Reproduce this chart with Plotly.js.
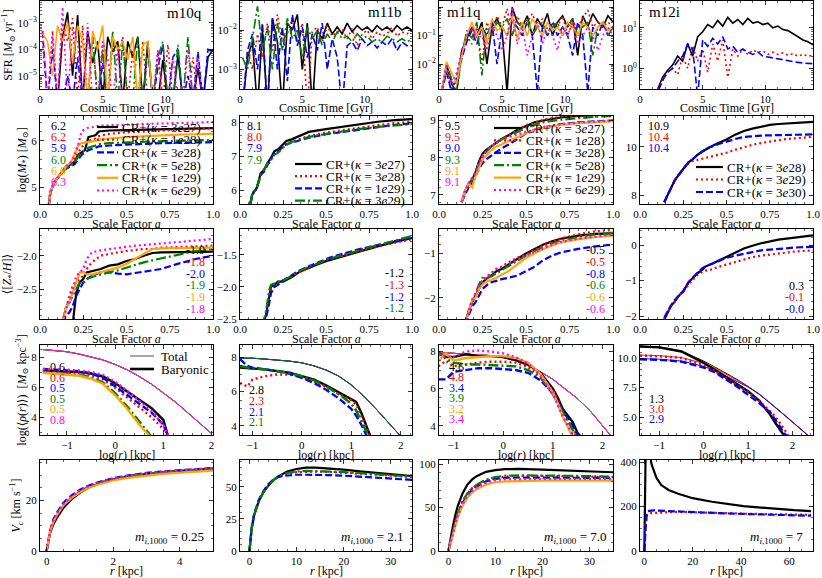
<!DOCTYPE html>
<html><head><meta charset="utf-8">
<script src="https://cdn.plot.ly/plotly-3.0.1.min.js"></script>
<style>html,body{margin:0;padding:0;background:#fff}#chart{width:822px;height:578px}</style>
</head><body><div id="chart"></div><script>
// ================= DATA =================
// Row 1: star formation rate vs cosmic time [Gyr]
const sfrTime = [0.2,0.6,1.0,1.4,1.8,2.2,2.6,3.0,3.4,3.8,4.2,4.6,5.0,5.4,5.8,6.2,6.6,7.0,7.4,7.8,8.2,8.6,9.0,9.4,9.8,10.2,10.6,11.0,11.4,11.8,12.2,12.6,13.0,13.4,13.8];
const sfr_m10q_k = [1e-6,1e-6,1e-6,1e-6,3e-4,2.5e-3,1e-5,2e-3,1e-6,5e-4,3e-5,2e-4,1e-6,3e-4,8e-5,2e-4,1e-6,2e-4,5e-5,3e-4,1e-6,2e-4,1e-6,1e-6,4e-5,1e-6,1e-6,6e-5,1e-6,1e-6,1e-6,2e-5,1e-6,5e-5,1e-4];
const sfr_m10q_r = [2e-4,1e-6,5e-4,1e-6,1e-3,2e-4,1.5e-3,1e-6,8e-4,1e-6,3e-4,1e-6,2e-4,1e-6,1.5e-4,4e-5,3e-4,1e-6,1e-4,1e-6,2e-4,1e-6,1e-6,8e-5,1e-6,1.5e-4,1e-6,1e-6,1e-6,1e-6,5e-5,1e-6,1e-6,1e-6,1e-6];
const sfr_m10q_b = [5e-4,1e-6,1e-4,1e-6,1e-6,1e-5,1e-6,5e-5,1e-6,1e-6,1e-6,1e-6,3e-5,1e-6,1e-6,1e-6,1e-6,1e-6,1e-6,1e-6,1e-6,1e-4,1e-6,2e-5,1.5e-4,1e-6,5e-5,1e-4,1e-6,1e-5,1e-6,8e-5,1e-6,1e-4,8e-5];
const sfr_m10q_g = [1e-6,1e-6,1e-6,1e-6,1e-6,1e-6,1e-6,1e-6,1e-6,1e-6,3e-4,1e-6,1e-4,1e-6,5e-4,1e-6,2e-4,1e-6,1e-6,3e-4,1e-6,1.5e-4,1e-6,5e-5,2e-4,1e-6,1e-6,1.5e-4,1e-6,3e-4,1e-6,1e-6,1e-6,1e-6,1e-6];
const sfr_m10q_o = [4e-4,2e-4,1e-5,8e-4,2e-4,1e-3,3e-5,8e-4,2e-4,1e-6,5e-4,1e-4,8e-4,1e-6,3e-4,1e-4,2e-4,4e-5,3e-4,1e-6,1.5e-4,2e-4,1e-6,1e-6,1e-6,1e-6,1e-6,1e-6,1e-6,1e-6,1e-6,1e-6,1e-6,1e-6,1e-6];
const sfr_m10q_m = [5e-4,1e-6,3e-4,1e-6,4e-3,1e-6,6e-4,2e-4,1e-6,1e-3,1e-6,1e-6,2e-4,5e-5,1e-6,1e-4,1e-6,1e-6,1e-6,1e-6,1e-6,1e-6,1e-6,1e-4,1e-6,1e-6,5e-5,1e-6,1e-6,1e-4,1e-6,5e-5,1e-6,1e-6,1e-6];
const sfr_m11b_k = [1e-4,2e-3,5e-3,1e-4,1e-2,1e-4,2e-2,5e-3,1e-4,1.5e-2,1e-2,2.5e-2,1e-3,1.5e-2,1e-4,1e-2,6e-3,1.5e-2,8e-3,1.2e-2,8e-3,1.5e-2,9e-3,1.3e-2,1e-2,1.2e-2,9e-3,1.3e-2,1e-2,1.2e-2,9e-3,1.3e-2,1e-2,1.2e-2,1e-2];
const sfr_m11b_r = [1e-4,3e-3,1e-3,8e-3,2e-3,1.5e-2,3e-3,2.5e-2,5e-3,8e-3,2e-2,5e-3,1.5e-2,1e-4,9e-3,1.2e-2,5e-3,1.3e-2,7e-3,9e-3,1e-2,6e-3,1.1e-2,4e-3,8e-3,1e-2,6e-3,9e-3,7e-3,8e-3,1.2e-2,7e-3,9e-3,8e-3,1e-2];
const sfr_m11b_b = [1e-4,3e-3,8e-3,1e-3,1.5e-2,1e-4,2e-2,1e-3,1.2e-2,5e-4,2.5e-2,4e-3,1.2e-2,2e-3,8e-3,3e-3,1.5e-2,1e-3,6e-3,2e-3,1e-4,4e-3,5e-3,3e-3,6e-3,4e-3,5e-3,3.5e-3,5e-3,4e-3,6e-3,3e-3,5e-3,4e-3,4e-3];
const sfr_m11b_g = [2e-3,1e-3,6e-3,4e-2,3e-3,1.2e-2,1e-3,1.5e-2,3e-3,2e-2,6e-3,1e-2,2e-3,1.2e-2,6e-3,1e-2,4e-3,8e-3,5e-3,9e-3,6e-3,7e-3,5e-3,8e-3,6e-3,7e-3,5e-3,6e-3,5e-3,7e-3,6e-3,5e-3,6e-3,5e-3,6e-3];
const sfr_m11q_k = [1e-3,1e-2,2e-3,1e-3,3e-2,8e-2,2e-1,1e-1,3e-1,1e-2,2e-1,4e-1,1.5e-1,1e-3,1,3e-1,2e-1,5e-1,1e-1,4e-1,2e-1,6e-1,1e-1,3e-1,5e-1,2e-1,4e-1,2e-2,5e-1,2e-1,6e-1,3e-1,2e-1,5e-1,3e-1];
const sfr_m11q_r = [1e-3,8e-3,1e-3,4e-3,2e-2,1e-1,5e-2,2e-1,1e-2,3e-1,1e-1,5e-1,2e-1,9e-1,1e-1,5e-1,2e-1,3e-1,6e-1,2e-1,4e-1,1e-1,3e-1,2e-1,5e-1,1e-1,3e-1,2e-1,4e-1,8e-1,2e-1,3e-1,2e-1,3e-1,2e-1];
const sfr_m11q_b = [1e-3,5e-3,1e-3,3e-3,1.5e-2,6e-2,1.5e-1,5e-2,2e-1,1e-1,3e-1,1e-2,2e-1,1e-1,3e-1,2e-1,1e-1,3e-1,1e-1,1e-3,2e-1,1e-1,3e-1,1e-1,2e-1,1e-1,2e-2,3e-1,1e-1,1e-3,2e-1,1e-1,3e-1,1e-1,2e-1];
const sfr_m11q_g = [1e-3,1e-2,3e-3,1e-3,2e-2,1.5e-1,8e-2,3e-1,4e-3,2e-1,1e-1,3e-1,2e-1,4e-1,1e-1,3e-1,2e-1,4e-1,1e-1,2e-1,3e-1,1e-1,2e-1,3e-1,1e-1,2e-1,4e-1,1e-1,2e-1,3e-1,2e-2,2e-1,3e-1,1e-1,2e-1];
const sfr_m11q_o = [1e-3,1.2e-2,5e-3,2e-3,2e-2,1e-1,3e-1,1e-1,2e-1,5e-2,4e-1,1.5e-1,2e-1,1e-1,5e-1,8e-2,3e-1,1e-1,4e-1,2e-1,1e-1,3e-1,1.5e-1,2e-1,1e-1,3e-1,2e-1,1e-1,3e-1,2e-1,1e-1,2e-1,3e-1,1.5e-1,2e-1];
const sfr_m11q_m = [1e-3,1e-2,2e-3,5e-3,3e-2,1e-1,2e-1,8e-2,1e-1,3e-2,2e-1,1e-1,3e-2,1e-1,1,5e-2,2e-1,2e-2,1e-1,3e-1,5e-2,2e-1,1e-1,3e-2,2e-1,1e-1,3e-1,5e-2,1e-1,2e-1,1e-1,3e-2,1e-1,2e-1,1e-1];
const sfr_m12i_k = [0.1,0.1,0.1,0.3,0.6,0.9,1.2,2,1.5,4,2,6,8,12,10,15,11,18,13,16,12,17,13,14,12,13,10,11,9,8.5,7,6,5,4.5,3.8];
const sfr_m12i_r = [0.1,0.1,0.1,0.3,0.5,0.8,1.0,0.7,2.0,1.0,3.5,1.5,3.0,0.8,4.0,1.5,5.0,0.6,3.0,2.0,3.0,2.2,2.8,2.5,2.7,2.2,2.5,2.2,2.4,2.1,2.3,2.0,2.2,2.0,2.1];
const sfr_m12i_b = [0.1,0.1,0.1,0.25,0.5,0.8,1.0,1.5,2.0,4.0,3.0,0.2,5.0,3.5,5.5,4.0,6.0,3.0,3.5,2.5,3.0,2.5,2.2,2.5,2.0,1.9,1.8,1.7,1.6,1.5,1.45,1.4,1.35,1.3,1.3];

// Row 2: log stellar mass vs scale factor
const mass_m10q_a = [0.05,0.06,0.08,0.1,0.12,0.15,0.18,0.2,0.22,0.24,0.26,0.28,0.32,0.34,0.4,0.5,0.6,0.7,0.8,0.9,1.0];
const mass_m10q_k = [4.6,4.9,5.1,5.2,5.3,5.45,5.5,5.55,5.7,5.75,5.8,6.08,6.12,6.2,6.22,6.23,6.24,6.25,6.26,6.27,6.27];
const mass_m10q_r = [4.6,4.9,5.1,5.2,5.3,5.4,5.5,5.6,5.75,5.85,5.95,6.0,6.05,6.1,6.15,6.18,6.2,6.22,6.24,6.26,6.27];
const mass_m10q_b = [4.6,4.9,5.1,5.2,5.3,5.4,5.45,5.5,5.6,5.7,5.75,5.8,5.85,5.88,5.9,5.92,5.94,5.95,5.96,5.97,5.97];
const mass_m10q_g = [4.6,4.9,5.1,5.2,5.3,5.4,5.5,5.55,5.65,5.75,5.8,5.85,5.9,5.93,5.95,5.97,5.98,5.99,6.0,6.01,6.02];
const mass_m10q_o = [4.6,4.9,5.1,5.2,5.3,5.45,5.55,5.7,5.9,5.95,5.96,5.97,6.0,6.02,6.05,6.08,6.1,6.12,6.13,6.14,6.15];
const mass_m10q_m = [4.6,4.9,5.1,5.2,5.3,5.45,5.55,5.7,5.9,6.2,6.25,6.28,6.3,6.32,6.33,6.35,6.36,6.37,6.38,6.39,6.4];
const mass_m11b_a = [0.06,0.07,0.08,0.09,0.1,0.12,0.14,0.16,0.18,0.2,0.22,0.25,0.27,0.3,0.35,0.4,0.5,0.6,0.7,0.8,0.9,1.0];
const mass_m11b_k = [5.6,5.85,5.95,6.0,6.1,6.5,6.6,6.8,6.95,7.15,7.2,7.35,7.45,7.5,7.6,7.72,7.8,7.88,7.95,8.02,8.07,8.1];
const mass_m11b_r = [5.6,5.85,5.95,6.0,6.1,6.45,6.6,6.75,6.9,7.05,7.15,7.3,7.38,7.42,7.5,7.6,7.7,7.78,7.85,7.92,7.98,8.02];
const mass_m11b_b = [5.6,5.8,5.95,6.0,6.1,6.45,6.55,6.75,6.95,7.1,7.15,7.28,7.35,7.4,7.48,7.55,7.65,7.72,7.8,7.87,7.93,7.97];
const mass_m11b_g = [5.6,5.85,5.95,6.0,6.1,6.5,6.6,6.8,6.9,7.05,7.1,7.25,7.35,7.42,7.5,7.57,7.66,7.74,7.81,7.87,7.92,7.95];
const mass_m11q_a = [0.13,0.15,0.17,0.19,0.21,0.23,0.25,0.27,0.3,0.33,0.36,0.4,0.45,0.5,0.55,0.6,0.7,0.8,0.9,1.0];
const mass_m11q_k = [6.8,7.1,7.3,7.4,7.6,7.9,8.1,8.2,8.3,8.4,8.5,8.6,8.75,8.85,8.95,9.0,9.08,9.12,9.15,9.17];
const mass_m11q_r = [6.8,7.1,7.3,7.45,7.6,7.85,8.05,8.15,8.3,8.4,8.5,8.6,8.75,8.87,8.95,9.02,9.1,9.14,9.16,9.18];
const mass_m11q_b = [6.8,7.0,7.2,7.3,7.5,7.7,7.85,7.95,8.05,8.15,8.25,8.35,8.5,8.65,8.75,8.8,8.9,8.95,8.98,9.0];
const mass_m11q_g = [6.8,7.1,7.3,7.4,7.6,7.85,8.05,8.15,8.3,8.4,8.5,8.58,8.7,8.8,8.88,8.95,9.02,9.07,9.1,9.12];
const mass_m11q_o = [6.8,7.1,7.3,7.2,7.5,7.75,7.95,8.05,8.2,8.3,8.35,8.45,8.55,8.65,8.75,8.8,8.88,8.93,8.96,8.98];
const mass_m11q_m = [6.8,7.1,7.3,7.4,7.6,7.85,8.0,8.15,8.3,8.4,8.48,8.55,8.62,8.7,8.78,8.83,8.9,8.94,8.97,8.99];
const mass_m12i_a = [0.14,0.16,0.18,0.2,0.22,0.25,0.28,0.3,0.33,0.36,0.4,0.45,0.5,0.55,0.6,0.65,0.7,0.75,0.8,0.85,0.9,0.95,1.0];
const mass_m12i_k = [7.7,8.0,8.3,8.6,8.8,9.1,9.35,9.45,9.65,9.8,9.97,10.14,10.3,10.5,10.65,10.75,10.83,10.9,10.94,10.97,11.0,11.02,11.03];
const mass_m12i_r = [7.7,8.0,8.3,8.6,8.8,9.1,9.3,9.4,9.45,9.5,9.58,9.68,9.75,9.87,9.98,10.08,10.15,10.22,10.27,10.32,10.36,10.39,10.41];
const mass_m12i_b = [7.7,8.0,8.3,8.6,8.8,9.1,9.35,9.45,9.65,9.8,9.97,10.1,10.22,10.32,10.4,10.44,10.46,10.47,10.48,10.49,10.5,10.5,10.51];

// Row 3: mean stellar metallicity vs scale factor
const met_m10q_a = [0.13,0.15,0.17,0.19,0.21,0.23,0.25,0.27,0.3,0.35,0.4,0.45,0.5,0.55,0.6,0.65,0.7,0.8,0.9,1.0];
const met_m10q_k = [null,null,null,-3.0,-2.55,-2.4,-2.35,-2.25,-2.23,-2.2,-2.15,-2.13,-2.08,-2.05,-2.0,-1.96,-1.95,-1.95,-1.95,-1.94];
const met_m10q_r = [-3.0,-2.8,-2.6,-2.45,-2.4,-2.35,-2.3,-2.2,-2.1,-2.0,-1.97,-1.95,-1.93,-1.91,-1.9,-1.9,-1.88,-1.87,-1.86,-1.85];
const met_m10q_b = [-3.0,-2.9,-2.85,-2.75,-2.6,-2.5,-2.4,-2.35,-2.3,-2.25,-2.25,-2.27,-2.28,-2.26,-2.24,-2.22,-2.2,-2.12,-2.05,-2.0];
const met_m10q_g = [-3.0,-2.75,-2.7,-2.6,-2.5,-2.4,-2.42,-2.35,-2.32,-2.28,-2.25,-2.22,-2.18,-2.13,-2.1,-2.07,-2.04,-1.98,-1.93,-1.9];
const met_m10q_o = [-3.0,-2.8,-2.7,-2.55,-2.4,-2.25,-2.25,-2.28,-2.28,-2.25,-2.22,-2.18,-2.12,-2.05,-1.98,-1.9,-1.89,-1.89,-1.88,-1.88];
const met_m10q_m = [-3.0,-2.8,-2.7,-2.5,-2.3,-2.25,-2.2,-2.05,-1.95,-1.92,-1.9,-1.88,-1.87,-1.85,-1.84,-1.83,-1.82,-1.8,-1.78,-1.75];
const met_m11b_a = [0.13,0.15,0.17,0.18,0.2,0.22,0.25,0.3,0.35,0.4,0.45,0.5,0.55,0.6,0.7,0.8,0.9,1.0];
const met_m11b_k = [-2.6,-2.45,-2.15,-2.0,-1.97,-1.92,-1.92,-1.85,-1.76,-1.7,-1.65,-1.6,-1.56,-1.52,-1.44,-1.37,-1.3,-1.24];
const met_m11b_r = [-2.6,-2.45,-2.2,-2.05,-2.0,-1.95,-1.9,-1.83,-1.76,-1.7,-1.64,-1.58,-1.55,-1.51,-1.44,-1.37,-1.31,-1.26];
const met_m11b_b = [-2.6,-2.5,-2.25,-2.1,-2.0,-1.97,-1.9,-1.82,-1.74,-1.68,-1.62,-1.57,-1.52,-1.48,-1.41,-1.35,-1.29,-1.23];
const met_m11b_g = [-2.6,-2.4,-2.05,-1.97,-1.95,-1.93,-1.9,-1.83,-1.75,-1.69,-1.63,-1.58,-1.54,-1.5,-1.42,-1.35,-1.28,-1.21];
const met_m11q_a = [0.15,0.17,0.19,0.21,0.23,0.25,0.28,0.3,0.33,0.36,0.4,0.45,0.5,0.55,0.6,0.65,0.7,0.8,0.9,1.0];
const met_m11q_k = [-2.6,-2.3,-2.1,-1.95,-1.8,-1.65,-1.55,-1.5,-1.4,-1.35,-1.25,-1.12,-1.0,-0.9,-0.8,-0.73,-0.67,-0.6,-0.56,-0.55];
const met_m11q_r = [-2.6,-2.3,-2.05,-1.95,-1.8,-1.6,-1.5,-1.45,-1.35,-1.3,-1.2,-1.1,-1.02,-0.92,-0.82,-0.74,-0.66,-0.57,-0.5,-0.47];
const met_m11q_b = [-2.6,-2.4,-2.2,-2.1,-1.95,-1.8,-1.7,-1.65,-1.62,-1.58,-1.55,-1.5,-1.4,-1.3,-1.15,-1.05,-0.98,-0.9,-0.84,-0.8];
const met_m11q_g = [-2.6,-2.3,-2.1,-1.9,-1.7,-1.55,-1.55,-1.52,-1.45,-1.38,-1.28,-1.18,-1.05,-0.95,-0.86,-0.78,-0.72,-0.63,-0.57,-0.53];
const met_m11q_o = [-2.6,-2.3,-2.05,-2.0,-1.8,-1.7,-1.62,-1.6,-1.55,-1.48,-1.4,-1.25,-1.1,-1.0,-0.9,-0.82,-0.75,-0.68,-0.63,-0.6];
const met_m11q_m = [-2.6,-2.3,-2.05,-1.9,-1.75,-1.6,-1.55,-1.45,-1.35,-1.3,-1.25,-1.15,-1.05,-0.97,-0.88,-0.8,-0.74,-0.67,-0.62,-0.58];
const met_m12i_a = [0.14,0.16,0.18,0.2,0.22,0.25,0.28,0.3,0.33,0.36,0.38,0.42,0.45,0.5,0.55,0.6,0.65,0.7,0.8,0.9,1.0];
const met_m12i_k = [-2.1,-1.9,-1.7,-1.6,-1.45,-1.3,-1.05,-0.95,-0.8,-0.7,-0.6,-0.52,-0.45,-0.32,-0.2,-0.1,-0.02,0.05,0.15,0.22,0.27];
const met_m12i_r = [-2.1,-1.9,-1.7,-1.6,-1.45,-1.3,-1.1,-1.0,-0.85,-0.75,-0.72,-0.68,-0.62,-0.55,-0.47,-0.4,-0.34,-0.3,-0.23,-0.18,-0.15];
const met_m12i_b = [-2.05,-1.85,-1.7,-1.55,-1.45,-1.3,-1.05,-0.95,-0.8,-0.65,-0.6,-0.52,-0.45,-0.36,-0.3,-0.24,-0.2,-0.15,-0.1,-0.07,-0.05];

// Row 4: density profiles, log r [kpc] vs log rho; total (thin) and baryonic (thick)
const rho_m10q_tot_r = [-1.5,-1.25,-1.0,-0.75,-0.5,-0.25,0,0.25,0.5,0.75,1.0,1.25,1.5,1.75,2.0];
const rho_m10q_tot = [8.5,8.45,8.35,8.2,8.0,7.8,7.5,7.15,6.7,6.2,5.6,5.0,4.3,3.6,2.9];
const rho_m10q_bar_r = [-1.5,-1.25,-1.0,-0.75,-0.5,-0.25,0,0.25,0.5,0.75,1.0,1.1];
const rho_m10q_k = [7.1,7.08,7.05,7.0,6.9,6.7,6.25,5.7,5.2,4.6,3.8,2.7];
const rho_m10q_r = [7.1,7.05,7.0,6.95,6.8,6.5,5.95,5.3,4.7,4.0,3.2,2.7];
const rho_m10q_b = [7.2,7.15,7.1,7.05,6.9,6.6,6.05,5.45,4.9,4.3,3.5,2.7];
const rho_m10q_g = [7.0,6.95,6.9,6.8,6.65,6.3,5.6,4.7,3.7,2.7,null,null];
const rho_m10q_o = [6.95,6.9,6.85,6.75,6.55,6.2,5.45,4.55,3.5,2.6,null,null];
const rho_m10q_m = [7.2,7.2,7.15,7.1,7.0,6.8,6.35,5.75,5.1,4.4,3.5,2.7];
const rho_m11b_tot_r = [-1.25,-1.0,-0.75,-0.5,-0.25,0,0.25,0.5,0.75,1.0,1.25,1.5,1.75,2.0,2.25];
const rho_m11b_tot = [7.95,7.95,7.9,7.85,7.78,7.68,7.5,7.25,6.9,6.4,5.75,5.0,4.2,3.4,2.6];
const rho_m11b_bar_r = [-1.25,-1.1,-1.0,-0.75,-0.5,-0.25,0,0.25,0.5,0.75,1.0,1.1,1.2,1.3,1.4];
const rho_m11b_k = [7.4,7.35,7.35,7.3,7.2,7.1,6.9,6.7,6.35,5.95,5.55,5.4,4.8,4.0,3.3];
const rho_m11b_r = [6.5,6.3,6.7,6.9,7.0,7.0,6.85,6.6,6.25,5.85,5.5,5.25,4.6,3.9,3.3];
const rho_m11b_b = [7.9,7.5,7.4,7.3,7.2,7.05,6.8,6.5,6.1,5.6,5.0,4.6,4.1,3.5,3.0];
const rho_m11b_g = [7.5,7.4,7.35,7.3,7.2,7.1,6.9,6.65,6.3,5.85,5.3,4.9,4.3,3.7,3.1];
const rho_m11q_tot_r = [-1.3,-1.0,-0.75,-0.5,-0.25,0,0.25,0.5,0.75,1.0,1.25,1.5,1.75,2.0,2.25];
const rho_m11q_tot = [7.95,7.9,7.88,7.85,7.78,7.68,7.5,7.25,6.9,6.5,6.0,5.45,4.8,4.0,3.2];
const rho_m11q_bar_r = [-1.3,-1.15,-1.0,-0.75,-0.5,-0.25,0,0.25,0.5,0.75,1.0,1.1,1.2,1.3,1.4,1.5,1.6];
const rho_m11q_k = [7.9,7.7,7.7,7.85,7.75,7.75,7.7,7.55,7.3,6.85,6.0,5.5,4.9,4.55,4.2,3.6,3.3];
const rho_m11q_r = [7.2,7.5,7.2,7.3,7.4,7.45,7.45,7.4,7.15,6.7,5.9,5.4,4.8,4.3,3.8,3.4,null];
const rho_m11q_b = [6.5,6.5,6.9,7.0,7.1,7.1,7.05,7.0,6.85,6.45,5.75,5.3,4.8,4.4,4.0,3.5,3.3];
const rho_m11q_g = [8.0,7.6,7.4,7.3,7.3,7.28,7.25,7.2,7.0,6.6,5.7,5.2,4.7,4.2,3.7,3.3,null];
const rho_m11q_o = [7.5,7.9,7.5,7.65,7.7,7.75,7.75,7.65,7.4,6.8,5.8,5.2,4.5,3.9,3.4,null,null];
const rho_m11q_m = [7.8,7.75,7.7,8.0,8.05,8.0,7.9,7.7,7.35,6.7,5.7,5.1,4.5,4.0,3.5,null,null];
const rho_m12i_tot_r = [-1.43,-1.0,-0.5,0,0.25,0.5,0.75,1.0,1.25,1.5,1.75,2.0,2.25,2.46];
const rho_m12i_tot_k = [11.0,10.95,10.6,9.75,9.25,8.75,8.2,7.6,6.95,6.2,5.4,4.6,3.8,3.1];
const rho_m12i_tot_r_ = [10.25,10.2,10.05,9.55,9.15,8.65,8.15,7.6,6.95,6.2,5.4,4.6,3.8,3.1];
const rho_m12i_tot_b = [9.95,9.9,9.75,9.3,8.95,8.5,8.05,7.55,6.95,6.2,5.4,4.6,3.8,3.1];
const rho_m12i_bar_r = [-1.43,-1.0,-0.5,0,0.25,0.5,0.75,1.0,1.25,1.5,1.6,1.7,1.8,1.9];
const rho_m12i_k = [10.97,10.9,10.55,9.6,9.0,8.4,7.8,7.2,6.4,5.2,4.6,4.0,3.5,null];
const rho_m12i_r = [10.2,10.15,10.0,9.4,8.9,8.3,7.7,7.1,6.4,5.5,5.1,4.6,4.0,3.5];
const rho_m12i_b = [9.9,9.85,9.7,9.2,8.8,8.2,7.6,6.9,6.2,5.4,4.9,4.3,3.7,3.3];

// Row 5: circular velocity [km/s] vs r [kpc]
const vc_m10q_r = [0,0.05,0.1,0.2,0.3,0.5,0.75,1.0,1.25,1.5,2.0,2.5,3.0,3.5,4.0,4.5,5.0];
const vc_m10q_k = [0,4,7,10.5,13,17,20.5,23,25,26.3,28.3,29.6,30.5,31.2,31.7,32.2,32.6];
const vc_m10q_rd = [0,4.5,7.5,11.5,14,18,21.3,23.6,25.4,26.7,28.6,29.8,30.7,31.3,31.8,32.3,32.7];
const vc_m10q_b = [0,5,8,12.5,15,19,22,24.2,25.8,27,28.8,30,30.9,31.5,32,32.4,32.8];
const vc_m10q_g = [0,4.5,7.5,11.5,14,18,21.2,23.5,25.3,26.6,28.5,29.7,30.6,31.2,31.7,32.1,32.5];
const vc_m10q_o = [0,4.5,7.5,11.5,14,18,21,23.2,24.9,26.1,27.9,29,29.9,30.5,31,31.4,31.8];
const vc_m10q_m = [0,5,8,12,14.5,18.5,21.7,24,25.6,26.8,28.7,29.9,30.8,31.4,31.9,32.4,32.8];
const vc_m11b_r = [0,0.5,1,1.5,2,3,4,5,6,7,8,10,12,14,17,20,24,28,32,34.5];
const vc_m11b_k = [0,18,28,34,39,46,51,55,58,60,62,64,65,65,64.5,63.5,62,60.5,59.3,58.5];
const vc_m11b_rd = [0,18,28,34,39,46,51,55,57.5,59,60.5,61.5,62,62,61.7,61.2,60.3,59.3,58.3,57.8];
const vc_m11b_b = [0,19,29,35,40,47,52,55.5,57.5,58.5,59,59.5,59.5,59.5,59.2,58.8,58,57,56,55.5];
const vc_m11b_g = [0,18,28,34,39,46,51,55,57.8,59.5,61,62,62.5,62.3,62,61.5,60.6,59.6,58.6,58];
const vc_m11q_r = [0,0.5,1,1.5,2,3,4,5,6,8,10,12,15,20,25,30,35];
const vc_m11q_k = [0,16,30,42,52,66,76,82,86,91,93,94,94.5,93.5,92.5,91.5,90.5];
const vc_m11q_rd = [0,12,24,34,43,57,66,72,76,81.5,84,85.5,86.5,86.5,86,85.5,85];
const vc_m11q_b = [0,12,23,33,42,55,64,70,74,80,83,84,84.5,84.5,84.3,84,84];
const vc_m11q_g = [0,12,24,34,43,57,66,72,76,82,85,86.5,87,87,86.5,86,85.5];
const vc_m11q_o = [0,10,21,31,39,52,61,67,71,76.5,79,80,80.5,81,81,81,81];
const vc_m11q_m = [0,11,22,32,41,54,63,69,73,78.5,81.5,82.5,83,83,83,83,83];
const vc_m12i_r = [0,0.2,0.5,1,1.5,2,3,4,5,7,10,14,20,28,35,41,50,55,62,69];
const vc_m12i_k = [0,200,420,560,500,450,390,355,330,297,275,258,238,222,210,202,194,189,184,180];
const vc_m12i_rd = [0,60,120,160,168,170,171,172,172,173,175,176,175,172,170,168,166,165,164,163];
const vc_m12i_b = [0,50,100,165,178,181,183,183,182,181,180,178,176,172,169,167,165,163,161,159];

// Text content
const haloNames = ['m10q','m11b','m11q','m12i'];
const kappa_m10q = ['3e27','1e28','3e28','5e28','1e29','6e29'];
const kappa_m11b = ['3e27','3e28','1e29','3e29'];
const kappa_m11q = ['3e27','1e28','3e28','5e28','1e29','6e29'];
const kappa_m12i = ['3e28','3e29','3e30'];
const massLab_m10q = ['6.2','6.2','5.9','6.0','6.0','6.3'];
const massLab_m11b = ['8.1','8.0','7.9','7.9'];
const massLab_m11q = ['9.5','9.5','9.0','9.3','9.1','9.1'];
const massLab_m12i = ['10.9','10.4','10.4'];
const metLab_m10q = ['-1.9','-1.8','-2.0','-1.9','-1.9','-1.8'];
const metLab_m11b = ['-1.2','-1.3','-1.2','-1.2'];
const metLab_m11q = ['-0.5','-0.5','-0.8','-0.6','-0.6','-0.6'];
const metLab_m12i = ['0.3','-0.1','-0.0'];
const rhoLab_m10q = ['0.6','0.6','0.5','0.5','0.5','0.8'];
const rhoLab_m11b = ['2.8','2.3','2.1','2.1'];
const rhoLab_m11q = ['4.6','4.8','3.4','3.9','3.2','3.4'];
const rhoLab_m12i = ['1.3','3.0','2.9'];
const mi1000 = ['0.25','2.1','7.0','7'];

// ================= STYLE / LAYOUT =================
const W = 822, H = 578;
const FONT = 'Liberation Serif, DejaVu Serif, serif';
const STY = {
  k:{color:'#000000', dash:'solid'},
  r:{color:'#ff0000', dash:'2px,3px'},
  b:{color:'#0000ff', dash:'7px,3px'},
  g:{color:'#008000', dash:'10px,3px,2px,3px'},
  o:{color:'#ffa500', dash:'solid'},
  m:{color:'#ff00ff', dash:'2px,3px'}
};
const set6 = ['k','r','b','g','o','m'], set4 = ['k','r','b','g'], set3 = ['k','r','b'];
const panelSets = [set6, set4, set6, set3];
const colL = [40,240,439,640], colR = [213,412,613,813];
const rowT = [1,116,229,345,460], rowB = [89,204,319,435,551];
const px = x => x / W, py = y => 1 - y / H;

const traces = [];
function line(k, x, y, s, w, dashOverride) {
  traces.push({type:'scatter', mode:'lines', x:x, y:y, xaxis:'x'+k, yaxis:'y'+k,
    line:{color:STY[s].color, dash: dashOverride || STY[s].dash, width:w},
    showlegend:false, hoverinfo:'skip', connectgaps:false});
}
const kid = (r,c) => r*4 + c + 1;

// Row 1
[[sfr_m10q_k,sfr_m10q_r,sfr_m10q_b,sfr_m10q_g,sfr_m10q_o,sfr_m10q_m],
 [sfr_m11b_k,sfr_m11b_r,sfr_m11b_b,sfr_m11b_g],
 [sfr_m11q_k,sfr_m11q_r,sfr_m11q_b,sfr_m11q_g,sfr_m11q_o,sfr_m11q_m],
 [sfr_m12i_k,sfr_m12i_r,sfr_m12i_b]].forEach((ser,c)=>ser.forEach((y,i)=>line(kid(0,c), sfrTime, y, panelSets[c][i], 1.6)));
// Row 2
[[mass_m10q_a,[mass_m10q_k,mass_m10q_r,mass_m10q_b,mass_m10q_g,mass_m10q_o,mass_m10q_m]],
 [mass_m11b_a,[mass_m11b_k,mass_m11b_r,mass_m11b_b,mass_m11b_g]],
 [mass_m11q_a,[mass_m11q_k,mass_m11q_r,mass_m11q_b,mass_m11q_g,mass_m11q_o,mass_m11q_m]],
 [mass_m12i_a,[mass_m12i_k,mass_m12i_r,mass_m12i_b]]].forEach((p,c)=>p[1].forEach((y,i)=>line(kid(1,c), p[0], y, panelSets[c][i], 2.2)));
// Row 3
[[met_m10q_a,[met_m10q_k,met_m10q_r,met_m10q_b,met_m10q_g,met_m10q_o,met_m10q_m]],
 [met_m11b_a,[met_m11b_k,met_m11b_r,met_m11b_b,met_m11b_g]],
 [met_m11q_a,[met_m11q_k,met_m11q_r,met_m11q_b,met_m11q_g,met_m11q_o,met_m11q_m]],
 [met_m12i_a,[met_m12i_k,met_m12i_r,met_m12i_b]]].forEach((p,c)=>p[1].forEach((y,i)=>line(kid(2,c), p[0], y, panelSets[c][i], 2.2)));
// Row 4 totals (thin solid) then baryonic (thick)
[[rho_m10q_tot_r,[rho_m10q_tot,rho_m10q_tot,rho_m10q_tot,rho_m10q_tot,rho_m10q_tot,rho_m10q_tot]],
 [rho_m11b_tot_r,[rho_m11b_tot,rho_m11b_tot,rho_m11b_tot,rho_m11b_tot]],
 [rho_m11q_tot_r,[rho_m11q_tot,rho_m11q_tot,rho_m11q_tot,rho_m11q_tot,rho_m11q_tot,rho_m11q_tot]],
 [rho_m12i_tot_r,[rho_m12i_tot_k,rho_m12i_tot_r_,rho_m12i_tot_b]]].forEach((p,c)=>p[1].forEach((y,i)=>line(kid(3,c), p[0], y, panelSets[c][i], 0.9, 'solid')));
[[rho_m10q_bar_r,[rho_m10q_k,rho_m10q_r,rho_m10q_b,rho_m10q_g,rho_m10q_o,rho_m10q_m]],
 [rho_m11b_bar_r,[rho_m11b_k,rho_m11b_r,rho_m11b_b,rho_m11b_g]],
 [rho_m11q_bar_r,[rho_m11q_k,rho_m11q_r,rho_m11q_b,rho_m11q_g,rho_m11q_o,rho_m11q_m]],
 [rho_m12i_bar_r,[rho_m12i_k,rho_m12i_r,rho_m12i_b]]].forEach((p,c)=>p[1].forEach((y,i)=>line(kid(3,c), p[0], y, panelSets[c][i], 2.4)));
// Row 5
[[vc_m10q_r,[vc_m10q_k,vc_m10q_rd,vc_m10q_b,vc_m10q_g,vc_m10q_o,vc_m10q_m]],
 [vc_m11b_r,[vc_m11b_k,vc_m11b_rd,vc_m11b_b,vc_m11b_g]],
 [vc_m11q_r,[vc_m11q_k,vc_m11q_rd,vc_m11q_b,vc_m11q_g,vc_m11q_o,vc_m11q_m]],
 [vc_m12i_r,[vc_m12i_k,vc_m12i_rd,vc_m12i_b]]].forEach((p,c)=>p[1].forEach((y,i)=>line(kid(4,c), p[0], y, panelSets[c][i], 2.2)));

// ---- axes ----
const M = '\u2212';
const xCfg = [
  [0,1,2,3].map(()=>({range:[0,13.8], dtick:5, minor:1})),
  [0,1,2,3].map(()=>({range:[0,1], tickvals:[0,0.25,0.5,0.75,1], ticktext:['0.0','0.25','0.5','0.75','1.0'], minor:0.05})),
  [0,1,2,3].map(()=>({range:[0,1], tickvals:[0,0.25,0.5,0.75,1], ticktext:['0.0','0.25','0.5','0.75','1.0'], minor:0.05})),
  [{range:[-1.56,2.03], dtick:1, minor:0.2},{range:[-1.25,2.23], dtick:1, minor:0.2},{range:[-1.29,2.21], dtick:1, minor:0.2},{range:[-1.43,2.46], dtick:1, minor:0.2}],
  [{range:[-0.2,5], dtick:2, minor:0.5},{range:[-2,34.5], dtick:10, minor:2},{range:[-2,35], dtick:10, minor:2},{range:[-1.8,69.8], dtick:20, minor:5}]
];
const sup = p => '10<sup>' + (p<0 ? M+(-p) : p) + '</sup>';
const yCfg = [
  [{log:true, range:[-5.5,-2.17], tickvals:[1e-5,1e-4,1e-3], ticktext:[sup(-5),sup(-4),sup(-3)]},
   {log:true, range:[-3.5,-1.26], tickvals:[1e-3,1e-2], ticktext:[sup(-3),sup(-2)]},
   {log:true, range:[-2.88,0.22], tickvals:[1e-2,1e-1,1], ticktext:[sup(-2),sup(-1),sup(0)]},
   {log:true, range:[-0.51,1.66], tickvals:[1,10], ticktext:[sup(0),sup(1)]}],
  [{range:[4.65,6.53], dtick:1, minor:0.2},{range:[5.59,8.19], dtick:1, minor:0.2},{range:[6.75,9.12], dtick:1, minor:0.2},{range:[7.63,11.27], dtick:2, minor:0.5}],
  [{range:[-2.95,-1.6], tickvals:[-2.5,-2], ticktext:[M+'2.5',M+'2.0'], minor:0.1},
   {range:[-2.5,-1.1], tickvals:[-2.5,-2,-1.5], ticktext:[M+'2.5',M+'2.0',M+'1.5'], minor:0.1},
   {range:[-2.48,-0.45], dtick:1, minor:0.2},{range:[-2.08,0.45], dtick:1, minor:0.2}],
  [{range:[2.8,8.8], dtick:2, minor:0.5},{range:[3.47,8.72], dtick:2, minor:0.5},{range:[3.5,8.35], dtick:2, minor:0.5},
   {range:[3.5,11.1], tickvals:[5,7.5,10], ticktext:['5.0','7.5','10.0'], minor:0.5}],
  [{range:[0,36], dtick:20, minor:5},{range:[0,71], dtick:25, minor:5},{range:[0,104.6], dtick:50, minor:10},{range:[0,410], dtick:200, minor:50}]
];
const xTitles = ['Cosmic Time [Gyr]','Scale Factor <i>a</i>','Scale Factor <i>a</i>','log(<i>r</i>) [kpc]','<i>r</i> [kpc]'];
const yTitles = ['SFR [<i>M</i><sub>\u2299</sub> yr<sup>\u22121</sup>]','log(<i>M</i><sub>*</sub>) [<i>M</i><sub>\u2299</sub>]',
  '\u27e8[<i>Z</i><sub>*</sub>/<i>H</i>]\u27e9','log(\u27e8<i>\u03c1</i>(<i>r</i>)\u27e9)  [<i>M</i><sub>\u2299</sub> kpc<sup>\u22123</sup>]',
  '<i>V</i><sub><i>c</i></sub> [km s<sup>\u22121</sup>]'];

function mkAxis(cfg, k, anchorLetter, domain) {
  const a = {domain:domain, anchor:anchorLetter+k, showline:true, linecolor:'#000', linewidth:1, mirror:'allticks',
    ticks:'inside', ticklen:4, tickwidth:0.8, tickcolor:'#000', showgrid:false, zeroline:false,
    tickfont:{family:FONT, size:11, color:'#000'}, fixedrange:true, automargin:false};
  if (cfg.log) {
    a.type = 'log'; a.range = cfg.range; a.tickmode = 'array'; a.tickvals = cfg.tickvals; a.ticktext = cfg.ticktext;
    a.minor = {ticks:'inside', ticklen:2, tickwidth:0.6, tickcolor:'#000', dtick:'D1'};
  } else {
    a.range = cfg.range;
    if (cfg.tickvals) { a.tickmode = 'array'; a.tickvals = cfg.tickvals; a.ticktext = cfg.ticktext; }
    else { a.tickmode = 'linear'; a.tick0 = 0; a.dtick = cfg.dtick; }
    a.minor = {ticks:'inside', ticklen:2, tickwidth:0.6, tickcolor:'#000', tick0:0, dtick:cfg.minor};
  }
  return a;
}
const layout = {width:W, height:H, margin:{l:0,r:0,t:0,b:0}, paper_bgcolor:'#fff', plot_bgcolor:'#fff',
  showlegend:false, font:{family:FONT, color:'#000'}, annotations:[], shapes:[]};
for (let r=0;r<5;r++) for (let c=0;c<4;c++) {
  const k = kid(r,c);
  const xa = mkAxis(xCfg[r][c], k, 'y', [px(colL[c]), px(colR[c])]);
  const ya = mkAxis(yCfg[r][c], k, 'x', [py(rowB[r]), py(rowT[r])]);
  if (c===0) ya.title = {text:yTitles[r], font:{family:FONT, size:12, color:'#000'}, standoff:2};
  layout['xaxis'+(k===1?'':k)] = xa;
  layout['yaxis'+(k===1?'':k)] = ya;
}

// ---- text & custom legends ----
function txt(x, y, text, color, size, xanchor) {
  layout.annotations.push({xref:'paper', yref:'paper', x:px(x), y:py(y), text:text, showarrow:false,
    xanchor:xanchor||'left', yanchor:'middle', font:{family:FONT, size:size, color:color}, borderpad:0});
}
// x-axis titles (just under the tick labels)
for (let r=0;r<5;r++) for (let c=0;c<4;c++) txt((colL[c]+colR[c])/2, rowB[r]+19.5, xTitles[r], '#000', 12, 'center');
function legRow(x0, x1, xt, y, s, w, dash, label, color) {
  layout.shapes.push({type:'line', xref:'paper', yref:'paper', x0:px(x0), x1:px(x1), y0:py(y), y1:py(y),
    line:{color: color || STY[s].color, width:w, dash: dash || STY[s].dash}});
  txt(xt, y, label, '#000', 13);
}
// halo names
txt(203, 13, haloNames[0], '#000', 15, 'right');
txt(403, 12, haloNames[1], '#000', 15, 'right');
txt(446, 12, haloNames[2], '#000', 15, 'left');
txt(648, 12, haloNames[3], '#000', 15, 'left');
// row 2 legends
const kap = v => 'CR+(<i>\u03ba</i> = ' + v.replace('e','<i>e</i>') + ')';
kappa_m10q.forEach((v,i)=>legRow(97,118,121,127+i*12.7,set6[i],2.2,null,kap(v)));
kappa_m11b.forEach((v,i)=>legRow(295,322,325,164+i*12.2,set4[i],2.2,null,kap(v)));
kappa_m11q.forEach((v,i)=>legRow(494,521,525,128+i*12.4,set6[i],2.2,null,kap(v)));
kappa_m12i.forEach((v,i)=>legRow(696,723,726,167+i*12.5,set3[i],2.2,null,kap(v)));
// row 2 final-mass labels
massLab_m10q.forEach((v,i)=>txt(50, 126+i*11.2, v, STY[set6[i]].color, 12));
massLab_m11b.forEach((v,i)=>txt(246, 126+i*11.2, v, STY[set4[i]].color, 12));
massLab_m11q.forEach((v,i)=>txt(444, 126+i*11.2, v, STY[set6[i]].color, 12));
massLab_m12i.forEach((v,i)=>txt(647, 126+i*11.2, v, STY[set3[i]].color, 12));
// row 3 labels
metLab_m10q.forEach((v,i)=>txt(206, 250+i*11.8, v, STY[set6[i]].color, 12, 'right'));
metLab_m11b.forEach((v,i)=>txt(405, 273+i*11.8, v, STY[set4[i]].color, 12, 'right'));
metLab_m11q.forEach((v,i)=>txt(606, 250+i*11.8, v, STY[set6[i]].color, 12, 'right'));
metLab_m12i.forEach((v,i)=>txt(805, 286+i*11.5, v, STY[set3[i]].color, 12, 'right'));
// row 4 labels
rhoLab_m10q.forEach((v,i)=>txt(49, 367+i*10.6, v, STY[set6[i]].color, 12));
rhoLab_m11b.forEach((v,i)=>txt(248, 390+i*10.8, v, STY[set4[i]].color, 12));
rhoLab_m11q.forEach((v,i)=>txt(448, 367+i*10.4, v, STY[set6[i]].color, 12));
rhoLab_m12i.forEach((v,i)=>txt(648, 399+i*9.8, v, STY[set3[i]].color, 12));
// row 4 legend
legRow(130,154,160,356,'k',1.4,'solid','Total','#808080');
legRow(130,154,160,369,'k',2.6,'solid','Baryonic');
// row 5 labels
const mi = v => '<i>m</i><sub><i>i</i>,1000</sub> = ' + v;
txt(205, 537, mi(mi1000[0]), '#000', 13, 'right');
txt(404, 537, mi(mi1000[1]), '#000', 13, 'right');
txt(607, 537, mi(mi1000[2]), '#000', 13, 'right');
txt(804, 537, mi(mi1000[3]), '#000', 13, 'right');

Plotly.newPlot('chart', traces, layout, {staticPlot:true, displayModeBar:false});
</script></body></html>
